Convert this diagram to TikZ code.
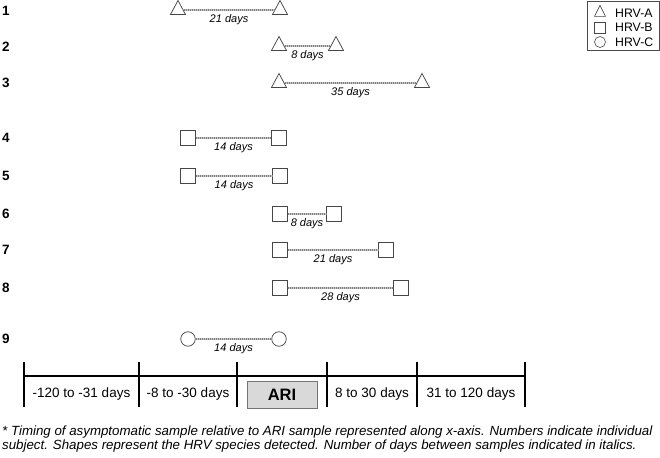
\documentclass[tikz,border=0pt]{standalone}
\usepackage{fontspec}
\setmainfont{Liberation Sans}
\usetikzlibrary{shapes.geometric}
\begin{document}
\begin{tikzpicture}[x=1bp,y=-1bp,
  shapeline/.style={draw=black!72, fill=white, line width=0.75bp, inner sep=0pt},
  tri/.style={shapeline, isosceles triangle, shape border rotate=90, isosceles triangle stretches, minimum width=15bp, minimum height=14bp},
  sq/.style={shapeline, rectangle, minimum size=14.5bp},
  circ/.style={shapeline, circle, minimum size=14.5bp},
  link/.style={preaction={draw=black!22, line width=2.4bp, solid}, draw=black!50, line width=2.2bp, dash pattern=on 1bp off 1bp},
  days/.style={font=\fontsize{11bp}{13bp}\selectfont\itshape, inner sep=0pt, yshift=-10bp},
  num/.style={font=\fontsize{13.5bp}{15bp}\selectfont\bfseries, anchor=west, inner sep=0pt},
  seg/.style={font=\fontsize{13.5bp}{15bp}\selectfont, inner sep=0pt},
  axis/.style={line width=1.8bp, draw=black},
  tick/.style={line width=1.6bp, draw=black},
  leg/.style={font=\fontsize{12.3bp}{14bp}\selectfont, anchor=west, inner sep=0pt},
  legsym/.style={draw=black!72, fill=white, line width=0.6bp, inner sep=0pt}
]
\useasboundingbox (0,0) rectangle (660,458);

% row numbers
\node[num] (n1) at (2,11) {1};
\node[num] (n2) at (2,47) {2};
\node[num] (n3) at (2,83) {3};
\node[num] (n4) at (2,138) {4};
\node[num] (n5) at (2,176) {5};
\node[num] (n6) at (2,214) {6};
\node[num] (n7) at (2,250) {7};
\node[num] (n8) at (2,288) {8};
\node[num] (n9) at (2,339) {9};

% row 1
\node[tri] (a1) at (178,10) {};
\node[tri] (b1) at (280,10) {};
\draw[link] (a1) -- (b1) node[days, midway] (d1) {21 days};
% row 2
\node[tri] (a2) at (279,46) {};
\node[tri] (b2) at (336,46) {};
\draw[link] (a2) -- (b2) node[days, midway] (d2) {8 days};
% row 3
\node[tri] (a3) at (279,83) {};
\node[tri] (b3) at (422,83) {};
\draw[link] (a3) -- (b3) node[days, midway] (d3) {35 days};
% row 4
\node[sq] (a4) at (188,138) {};
\node[sq] (b4) at (279,138) {};
\draw[link] (a4) -- (b4) node[days, midway] (d4) {14 days};
% row 5
\node[sq] (a5) at (188,176) {};
\node[sq] (b5) at (280,176) {};
\draw[link] (a5) -- (b5) node[days, midway] (d5) {14 days};
% row 6
\node[sq] (a6) at (280,214) {};
\node[sq] (b6) at (334,214) {};
\draw[link] (a6) -- (b6) node[days, midway] (d6) {8 days};
% row 7
\node[sq] (a7) at (280,250) {};
\node[sq] (b7) at (386,250) {};
\draw[link] (a7) -- (b7) node[days, midway] (d7) {21 days};
% row 8
\node[sq] (a8) at (280,288) {};
\node[sq] (b8) at (401,288) {};
\draw[link] (a8) -- (b8) node[days, midway] (d8) {28 days};
% row 9
\node[circ] (a9) at (188,339) {};
\node[circ] (b9) at (279,339) {};
\draw[link] (a9) -- (b9) node[days, midway] (d9) {14 days};

% timeline
\coordinate (L) at (24,376);
\coordinate (R) at (525,376);
\draw[axis] (L) -- (R);
\foreach \x/\n in {24/t0,139/t1,237/t2,327/t3,417/t4,525/t5}{
  \coordinate (\n top) at (\x,362);
  \coordinate (\n bot) at (\x,407);
  \draw[tick] (\n top) -- (\n bot);
}
\node[seg] (s1) at (81.5,394) {-120 to -31 days};
\node[seg] (s2) at (188,394) {-8 to -30 days};
\node[draw=black!55, fill=black!15, line width=0.8bp, minimum width=70bp, minimum height=27bp, inner sep=0pt,
      font=\fontsize{16.5bp}{18bp}\selectfont\bfseries] (ari) at (282,394.5) {ARI};
\node[seg] (s3) at (372,394) {8 to 30 days};
\node[seg] (s4) at (471,394) {31 to 120 days};

% legend
\node[draw=black!70, line width=0.7bp, minimum width=72bp, minimum height=49bp, inner sep=0pt] (legend) at (623,25.5) {};
\node[legsym, isosceles triangle, shape border rotate=90, isosceles triangle stretches, minimum width=11bp, minimum height=11bp] (la) at (600,13) {};
\node[legsym, rectangle, minimum size=10.5bp] (lb) at (600,28) {};
\node[legsym, circle, minimum size=11bp] (lc) at (600,42) {};
\node[leg] (ta) at (615,13) {HRV-A};
\node[leg] (tb) at (615,27.5) {HRV-B};
\node[leg] (tc) at (615,42) {HRV-C};

% footnote
\node[anchor=north west, inner sep=0pt, align=left,
      font=\fontsize{13.3bp}{14.5bp}\selectfont\itshape] (foot) at (2,425.5)
 {* Timing of asymptomatic sample relative to ARI sample represented along x-axis. Numbers indicate individual\\
  subject. Shapes represent the HRV species detected. Number of days between samples indicated in italics.};
\end{tikzpicture}
\end{document}
